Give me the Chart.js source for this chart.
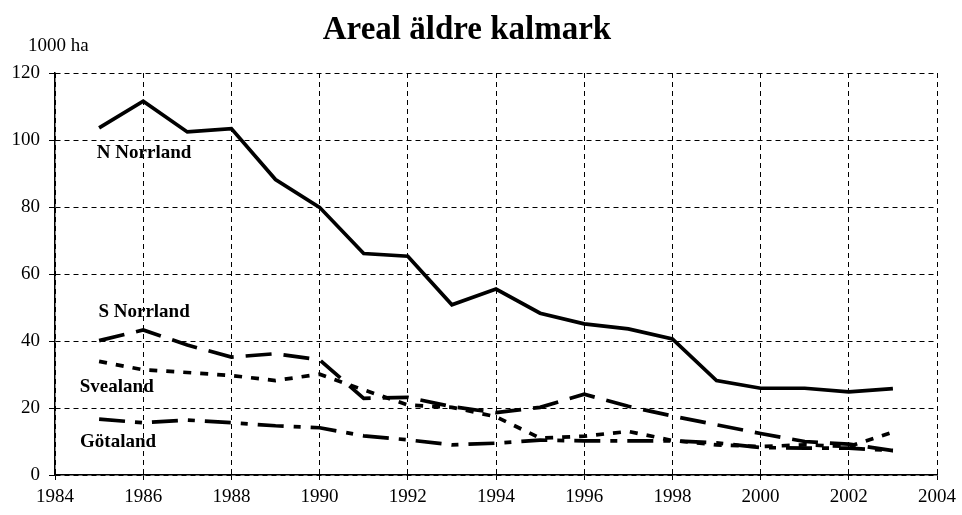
<!DOCTYPE html>
<html>
<head>
<meta charset="utf-8">
<script src="https://cdn.jsdelivr.net/npm/chart.js@4/dist/chart.umd.min.js"></script>
<style>
  html, body { margin: 0; padding: 0; background: white; }
  canvas { display: block; }
</style>
</head>
<body>
<canvas id="chart" width="962" height="515"></canvas>
<script>
// Years on the x axis, one value per year for each region.
YEARS = [1985, 1986, 1987, 1988, 1989, 1990, 1991, 1992, 1993, 1994,
         1995, 1996, 1997, 1998, 1999, 2000, 2001, 2002, 2003];

// Area of older clear-cut land, in 1000 ha.
N_NORRLAND = [103.6, 111.6, 102.4, 103.4, 88.2, 79.9, 66.1, 65.3, 50.8, 55.5,
              48.3, 45.1, 43.6, 40.6, 28.2, 25.9, 25.9, 24.8, 25.8];
S_NORRLAND = [40.1, 43.3, 38.8, 35.2, 36.2, 34.4, 22.9, 23.2, 20.4, 18.6,
              20.2, 24.1, 20.5, 17.6, 15.0, 12.4, 10.0, 9.2, 7.3];
SVEALAND = [33.9, 31.4, 30.6, 29.7, 28.2, 30.1, 25.4, 20.9, 20.2, 17.4,
            11.0, 11.6, 13.0, 10.3, 9.0, 8.5, 9.0, 8.5, 12.8];
GOTALAND = [16.7, 15.6, 16.4, 15.6, 14.7, 14.1, 11.7, 10.5, 9.0, 9.5,
            10.4, 10.2, 10.2, 10.2, 9.6, 8.2, 8.0, 8.0, 7.3];

// Axis ranges.
X_MIN = 1984;
X_MAX = 2004;
X_STEP = 2;
Y_MIN = 0;
Y_MAX = 120;
Y_STEP = 20;

SERIF = '"Liberation Serif", "Times New Roman", serif';

function points(values) {
    return values.map(function(v, i) { return {x: YEARS[i], y: v}; });
}

// Region names written next to their lines, anchored in data space.
const seriesLabels = [
    {text: 'N Norrland', x: 1986.02, y: 96.2},
    {text: 'S Norrland', x: 1986.02, y: 48.6},
    {text: 'Svealand', x: 1985.4, y: 26.3},
    {text: 'Götaland', x: 1985.43, y: 9.8},
];

const decorations = {
    id: 'decorations',
    beforeDraw(chart) {
        const ctx = chart.ctx;
        ctx.save();
        ctx.fillStyle = 'white';
        ctx.fillRect(0, 0, chart.width, chart.height);
        ctx.restore();
    },
    afterDraw(chart) {
        const ctx = chart.ctx;
        const x = chart.scales.x;
        const y = chart.scales.y;
        ctx.save();
        ctx.fillStyle = 'black';
        ctx.textAlign = 'center';
        ctx.textBaseline = 'alphabetic';
        ctx.font = 'bold 33px ' + SERIF;
        ctx.fillText('Areal äldre kalmark', 467, 39);

        ctx.textAlign = 'left';
        ctx.font = '19px ' + SERIF;
        ctx.fillText('1000 ha', 28, 51);

        ctx.textAlign = 'center';
        ctx.textBaseline = 'middle';
        ctx.font = 'bold 19px ' + SERIF;
        seriesLabels.forEach(function(l) {
            ctx.fillText(l.text, x.getPixelForValue(l.x), y.getPixelForValue(l.y));
        });
        ctx.restore();
    }
};

function dataset(label, values, dash) {
    return {
        label: label,
        data: points(values),
        borderColor: 'black',
        backgroundColor: 'black',
        borderWidth: 3.7,
        borderDash: dash,
        pointRadius: 0,
        tension: 0,
        fill: false,
    };
}

new Chart(document.getElementById('chart').getContext('2d'), {
    type: 'line',
    data: {
        datasets: [
            dataset('N Norrland', N_NORRLAND, []),
            dataset('S Norrland', S_NORRLAND, [26, 12]),
            dataset('Svealand', SVEALAND, [8, 9]),
            dataset('Götaland', GOTALAND, [26, 10, 7, 10]),
        ]
    },
    options: {
        responsive: false,
        animation: false,
        layout: {
            padding: {top: 73, right: 23, left: 0, bottom: 0},
        },
        plugins: {
            legend: {display: false},
            title: {display: false},
            tooltip: {enabled: false},
        },
        scales: {
            x: {
                type: 'linear',
                min: X_MIN,
                max: X_MAX,
                afterFit(scale) { scale.height = 40; },
                ticks: {
                    stepSize: X_STEP,
                    color: 'black',
                    padding: 6,
                    maxRotation: 0,
                    font: {family: SERIF, size: 19},
                    callback: function(v) { return String(v); },
                },
                grid: {
                    color: 'black',
                    lineWidth: 1,
                    tickLength: 5,
                    tickBorderDash: [],
                },
                border: {display: true, color: 'black', width: 1.5, dash: [5, 4]},
            },
            y: {
                min: Y_MIN,
                max: Y_MAX,
                afterFit(scale) { scale.width = 55; },
                ticks: {
                    stepSize: Y_STEP,
                    color: 'black',
                    padding: 9,
                    font: {family: SERIF, size: 19},
                },
                grid: {
                    color: 'black',
                    lineWidth: 1,
                    tickLength: 6,
                    tickBorderDash: [],
                },
                border: {display: true, color: 'black', width: 1.5, dash: [5, 4]},
            },
        },
    },
    plugins: [decorations],
});
</script>
</body>
</html>
